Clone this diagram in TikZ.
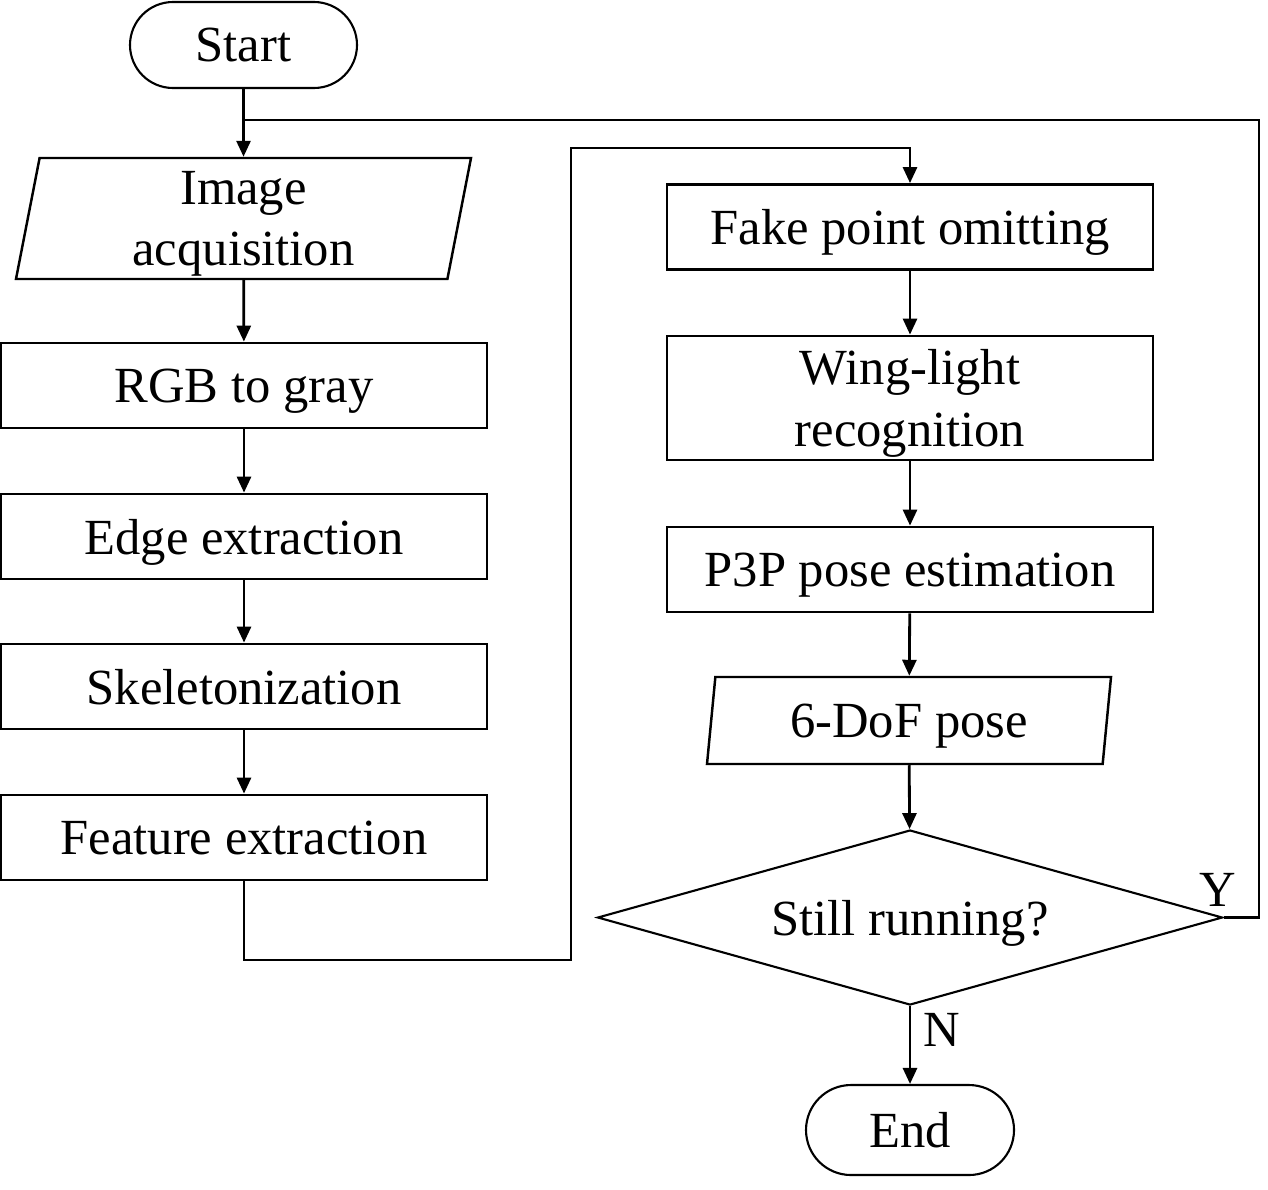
\documentclass[tikz,border=0pt]{standalone}
\usepackage{fontspec}
\setmainfont{Liberation Serif}
\usetikzlibrary{shapes.geometric,arrows.meta}

\begin{document}
\begin{tikzpicture}[
	font = \fontsize{14.4}{17.5}\selectfont,
	proc/.style = {draw, line width = 0.8pt, rectangle, minimum width = 4.86cm, minimum height = 0.85cm, align = center, text depth = 0pt},
	term/.style = {draw, line width = 0.6pt, rectangle, rounded corners = 4.3mm, minimum height = 0.86cm, text depth = 0pt},
	io/.style = {draw, line width = 0.7pt, trapezium, trapezium left angle = 76, trapezium right angle = 104, trapezium stretches body, align = center, inner sep = 0pt, text depth = 0pt},
	cond/.style = {draw, line width = 0.6pt, diamond, aspect = 3.57, minimum width = 6.25cm, minimum height = 1.75cm, inner sep = 0pt, text depth = 0pt},
	line/.style = {line width = 0.8pt},
	flow/.style = {line width = 0.8pt, -{Triangle[length = 1.6mm, width = 1.4mm]}}
	]
	\useasboundingbox (0,0) rectangle (12.68,-11.89);
	
	\coordinate[](join) at (2.435,-1.2) ;
	\coordinate[](fbot) at (5.71,-9.6) ;
	\coordinate[](ftop) at (5.71,-1.48) ;
	\coordinate[](yturn) at (12.59,-9.175) ;
	
	\node[term, minimum width = 2.27cm] (start) at (2.435,-0.45) {Start};
	\node[io, minimum width = 4.55cm, minimum height = 1.21cm] (img) at (2.435,-2.185) {Image\\acquisition};
	\node[proc] (gray) at (2.44,-3.855) {RGB to gray};
	\node[proc] (edge) at (2.44,-5.365) {Edge extraction};
	\node[proc] (skel) at (2.44,-6.865) {Skeletonization};
	\node[proc] (feat) at (2.44,-8.375) {Feature extraction};
	
	\node[proc] (fake) at (9.10,-2.27) {Fake point omitting};
	\node[proc, minimum height = 1.24cm] (wing) at (9.10,-3.98) {Wing-light\\recognition};
	\node[proc] (pose) at (9.10,-5.695) {P3P pose estimation};
	\node[io, minimum width = 4.04cm, minimum height = 0.87cm] (dof) at (9.09,-7.205) {6-DoF pose};
	\node[cond] (run) at (9.10,-9.175) {Still running?};
	\node[term, minimum width = 2.08cm, minimum height = 0.9cm, rounded corners = 4.5mm] (stop) at (9.10,-11.30) {End};
	
	\draw[flow] (start) -- (img);
	\draw[flow] (img) -- (gray);
	\draw[flow] (gray) -- (edge);
	\draw[flow] (edge) -- (skel);
	\draw[flow] (skel) -- (feat);
	\draw[flow] (feat.south) |- (fbot) -- (ftop) -| (fake.north);
	
	\draw[flow] (fake) -- (wing);
	\draw[flow] (wing) -- (pose);
	\draw[flow] (pose) -- (dof);
	\draw[flow] (dof) -- (run);
	\draw[flow] (run) -- (stop) node[pos = 0.3, xshift = 3.2mm]{N};
	\draw[line] (run.east) -- (yturn) |- (join);
	\node[] (yes) at (12.18,-8.90) {Y};
\end{tikzpicture}
\end{document}
